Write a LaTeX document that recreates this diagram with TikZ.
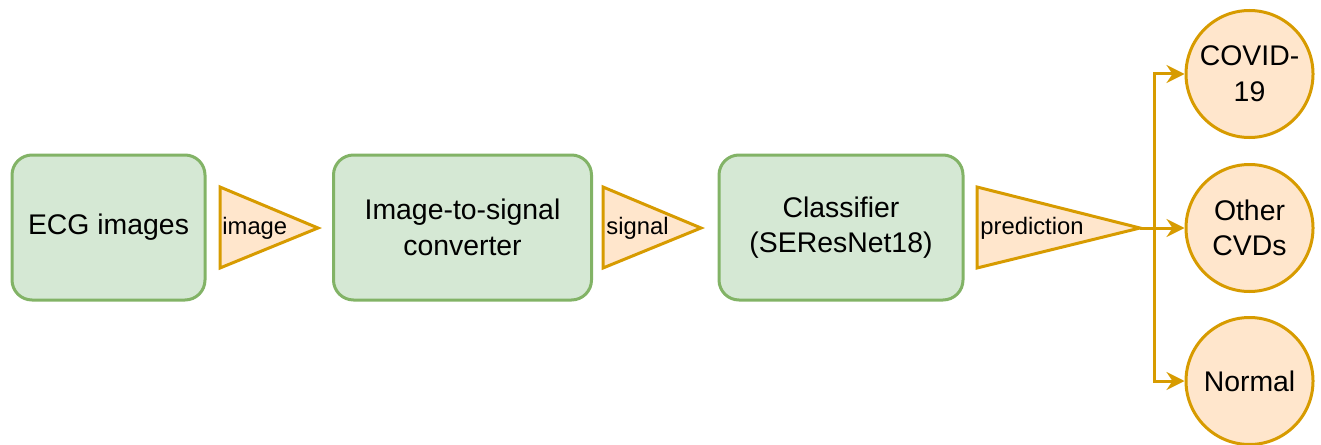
\documentclass[tikz,border=0pt]{standalone}
\usepackage{fontspec}
\setmainfont{Liberation Sans}
\usepackage{tikz}
\usetikzlibrary{arrows.meta, positioning, calc}
\usepackage{xcolor}
\definecolor{stageGreen}{HTML}{D5E8D4}
\definecolor{stageEdge}{HTML}{82B366}
\definecolor{dataOrange}{HTML}{FFE6CC}
\definecolor{dataEdge}{HTML}{D79B00}

\begin{document}
\begin{tikzpicture}[
    x=0.5pt, y=-0.5pt,
    every node/.style={font=\fontsize{14.2}{17.8}\selectfont},
    stage/.style={rectangle, draw=stageEdge, fill=stageGreen, rounded corners=10pt, minimum height=72.5pt, line width=1.5pt, align=center},
    datatri/.style={draw=dataEdge, fill=dataOrange, line width=1.5pt, line join=miter},
    datalbl/.style={font=\fontsize{11.9}{14}\selectfont, anchor=west, inner sep=0pt},
    outcome/.style={circle, draw=dataEdge, fill=dataOrange, line width=1.5pt, minimum size=63.5pt, inner sep=0pt, align=center},
    flow/.style={-{Stealth[length=9pt, width=9pt, inset=3pt]}, dataEdge, line width=1.5pt}
]
\useasboundingbox (0,0) rectangle (1321,444);

% Pipeline stages
\node[stage, minimum width=96.5pt] (ecg) at (108.5,227.5) {ECG images};
\node[stage, minimum width=129pt] (converter) at (462.5,227.5) {Image-to-signal\\converter};
\node[stage, minimum width=122pt] (classifier) at (841,227.5) {Classifier\\(SEResNet18)};

% Data passed between stages
\draw[datatri] (220,187) -- (318,228) coordinate (imgtip) -- (220,268) -- cycle;
\node[datalbl] (imglbl) at (222,228) {image};
\draw[datatri] (603,187) -- (701,228) coordinate (sigtip) -- (603,268) -- cycle;
\node[datalbl] (siglbl) at (606,228) {signal};
\draw[datatri] (977,187) -- (1140,228) coordinate (predtip) -- (977,268) -- cycle;
\node[datalbl] (predlbl) at (980,228) {prediction};

% Classes
\node[outcome] (covid) at (1249.5,74) {COVID-\\19};
\node[outcome] (cvd) at (1249.5,228) {Other\\CVDs};
\node[outcome] (normal) at (1249.5,381) {Normal};

% Branching arrows
\coordinate (split) at (1154,228);
\draw[flow] (predtip) -- (cvd);
\draw[flow] (split) |- (covid);
\draw[flow] (split) |- (normal);

\end{tikzpicture}
\end{document}
